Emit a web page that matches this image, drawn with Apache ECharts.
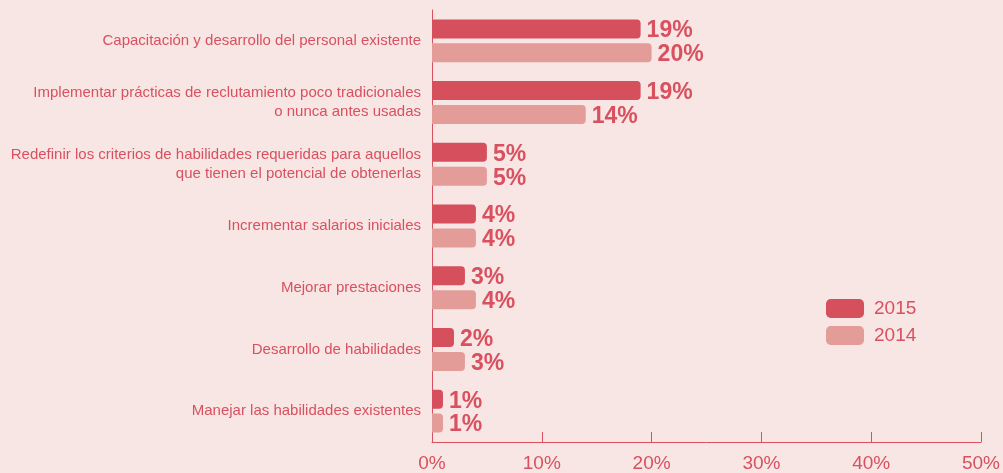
<!DOCTYPE html>
<html>
<head>
<meta charset="utf-8">
<style>
  html, body { margin: 0; padding: 0; background: #f7e6e4; }
  #chart { width: 1003px; height: 473px; }
</style>
<script src="https://cdn.jsdelivr.net/npm/echarts@6/dist/echarts.min.js"></script>
</head>
<body>
<div id="chart"></div>
<script>
  // datos
  var categorias = [
    'Capacitación y desarrollo del personal existente',
    'Implementar prácticas de reclutamiento poco tradicionales\no nunca antes usadas',
    'Redefinir los criterios de habilidades requeridas para aquellos\nque tienen el potencial de obtenerlas',
    'Incrementar salarios iniciales',
    'Mejorar prestaciones',
    'Desarrollo de habilidades',
    'Manejar las habilidades existentes'
  ];
  var datos2015 = [19, 19, 5, 4, 3, 2, 1];
  var datos2014 = [20, 14, 5, 4, 4, 3, 1];
  var anios = ['2015', '2014'];

  var rojo = '#d64f5c';
  var rosa = '#e39c98';
  var texto = '#d9505f';
  var fuente = 'Liberation Sans, Arial, sans-serif';

  function serie(nombre, datos, color) {
    return {
      name: nombre,
      type: 'bar',
      barWidth: 19,
      barGap: '26%',
      data: datos,
      itemStyle: {
        color: color,
        borderRadius: [0, 4, 4, 0]
      },
      label: {
        show: true,
        position: 'right',
        distance: 6,
        offset: [0, 2],
        formatter: '{c}%',
        color: texto,
        fontSize: 23,
        fontWeight: 'bold',
        fontFamily: fuente
      }
    };
  }

  var chart = echarts.init(document.getElementById('chart'));
  var option = {
    backgroundColor: '#f7e6e4',
    animation: false,
    grid: {
      left: 432,
      right: 20,
      top: 10,
      bottom: 31,
      containLabel: false
    },
    legend: {
      data: anios,
      orient: 'vertical',
      left: 826,
      top: 299,
      padding: 0,
      itemWidth: 38,
      itemHeight: 19,
      itemGap: 8,
      icon: 'roundRect',
      textStyle: {
        color: texto,
        fontSize: 19,
        padding: [0, 0, 0, 5],
        fontFamily: fuente
      }
    },
    xAxis: {
      type: 'value',
      min: 0,
      max: 50,
      interval: 10,
      axisLine: { show: true, lineStyle: { color: texto, width: 1 } },
      axisTick: { show: true, inside: true, length: 10, lineStyle: { color: texto } },
      splitLine: { show: false },
      axisLabel: {
        formatter: '{value}%',
        color: texto,
        fontSize: 19,
        margin: 12,
        fontFamily: fuente
      }
    },
    yAxis: {
      type: 'category',
      inverse: true,
      data: categorias,
      axisLine: { show: true, lineStyle: { color: texto, width: 1 } },
      axisTick: { show: false },
      axisLabel: {
        color: texto,
        fontSize: 15,
        lineHeight: 19,
        margin: 11,
        align: 'right',
        fontFamily: fuente
      }
    },
    series: [
      serie(anios[0], datos2015, rojo),
      serie(anios[1], datos2014, rosa)
    ]
  };
  chart.setOption(option);
</script>
</body>
</html>
